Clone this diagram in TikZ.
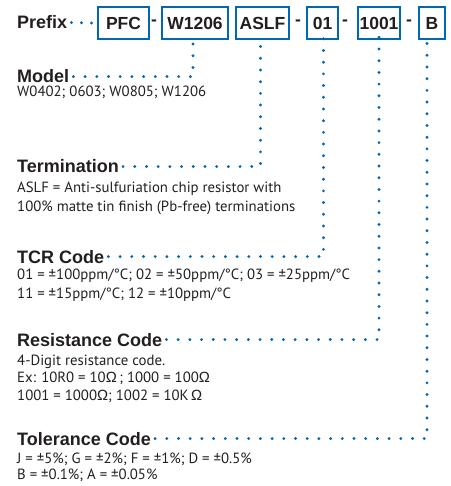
\documentclass[tikz,border=0pt]{standalone}
\usepackage{fontspec}
\setmainfont{PT Sans}
\newfontfamily\headfont{Liberation Sans}
\newfontfamily\omfont{Liberation Sans}
\usetikzlibrary{positioning}
\definecolor{codeblue}{RGB}{0,104,178}
\definecolor{inkgray}{RGB}{35,31,32}
\newcommand{\ohm}{{\omfont Ω}}
\tikzset{
  codebox/.style={draw=codeblue, line width=2.3pt, minimum height=32pt, inner sep=0pt,
    text=inkgray, font=\headfont\bfseries\fontsize{17.5}{20}\selectfont},
  sep/.style={inner sep=0pt, text=inkgray, font=\headfont\bfseries\fontsize{17.5}{20}\selectfont},
  heading/.style={anchor=base west, inner sep=0pt, text=inkgray,
    font=\headfont\bfseries\fontsize{18}{20}\selectfont},
  % anchored at the baseline of the last line
  desc/.style={anchor=base west, inner sep=0pt, align=left, text=inkgray,
    font=\fontsize{14.8}{#1}\selectfont},
  desc/.default=19,
  dotline/.style={codeblue, line width=3.2pt, line cap=round, dash pattern=on 0pt off 11.7pt},
}
\begin{document}
\begin{tikzpicture}[x=1pt,y=-1pt]
    \useasboundingbox (0,0) rectangle (450,486);

    % part number
    \node[heading] (prefix) at (17,29) {Prefix};
    \node[codebox, minimum width=51pt] (pfc) at (123.5,23) {PFC};
    \node[sep] (d1) at (154,23) {-};
    \node[codebox, minimum width=66pt] (model) at (195,23) {W1206};
    \node[codebox, minimum width=53pt] (term) at (262.5,23) {ASLF};
    \node[sep] (d2) at (298,23) {-};
    \node[codebox, minimum width=31pt] (tcr) at (322.5,23) {01};
    \node[sep] (d3) at (345,23) {-};
    \node[codebox, minimum width=42pt] (res) at (379,23) {1001};
    \node[sep] (d4) at (409,23) {-};
    \node[codebox, minimum width=26pt] (tol) at (432,23) {B};

    % fields
    \node[heading] (modelh) at (17,83) {Model};
    \node[desc] (modeld) at (17,97) {W0402; 0603; W0805; W1206};

    \node[heading] (termh) at (17,173) {Termination};
    \node[desc] (termd) at (17,211) {ASLF = Anti-sulfuriation chip resistor with\\
        100\% matte tin finish (Pb-free) terminations};

    \node[heading] (tcrh) at (17,263) {TCR Code};
    \node[desc] (tcrd) at (17,298) {01 = ±100ppm/°C; 02 = ±50ppm/°C; 03 = ±25ppm/°C\\
        11 = ±15ppm/°C; 12 = ±10ppm/°C};

    \node[heading] (resh) at (17,346) {Resistance Code};
    \node[desc=17.5] (resd) at (17,400) {4-Digit resistance code.\\
        Ex: 10R0 = 10\ohm\,; 1000 = 100\ohm\\
        1001 = 1000\ohm; 1002 = 10K\,\ohm};

    \node[heading] (tolh) at (17,445) {Tolerance Code};
    \node[desc=16] (told) at (17,479) {J = ±5\%; G = ±2\%; F = ±1\%; D = ±0.5\%\\
        B = ±0.1\%; A = ±0.05\%};

    % dotted leaders
    \draw[dotline, dash pattern=on 0pt off 10pt] ([xshift=4pt]prefix.east) -- ([xshift=-5pt]pfc.west);
    \draw[dotline] ([xshift=4pt]modelh.east) -| ([xshift=-2pt,yshift=4pt]model.south);
    \draw[dotline] ([xshift=4pt]termh.east) -| ([xshift=-2pt,yshift=4pt]term.south);
    \draw[dotline] ([xshift=4pt]tcrh.east) -| ([xshift=1pt,yshift=4pt]tcr.south);
    \draw[dotline] ([xshift=4pt]resh.east) -| ([yshift=4pt]res.south);
    \draw[dotline] ([xshift=4pt]tolh.east) -| ([xshift=-5pt,yshift=4pt]tol.south);
\end{tikzpicture}
\end{document}
